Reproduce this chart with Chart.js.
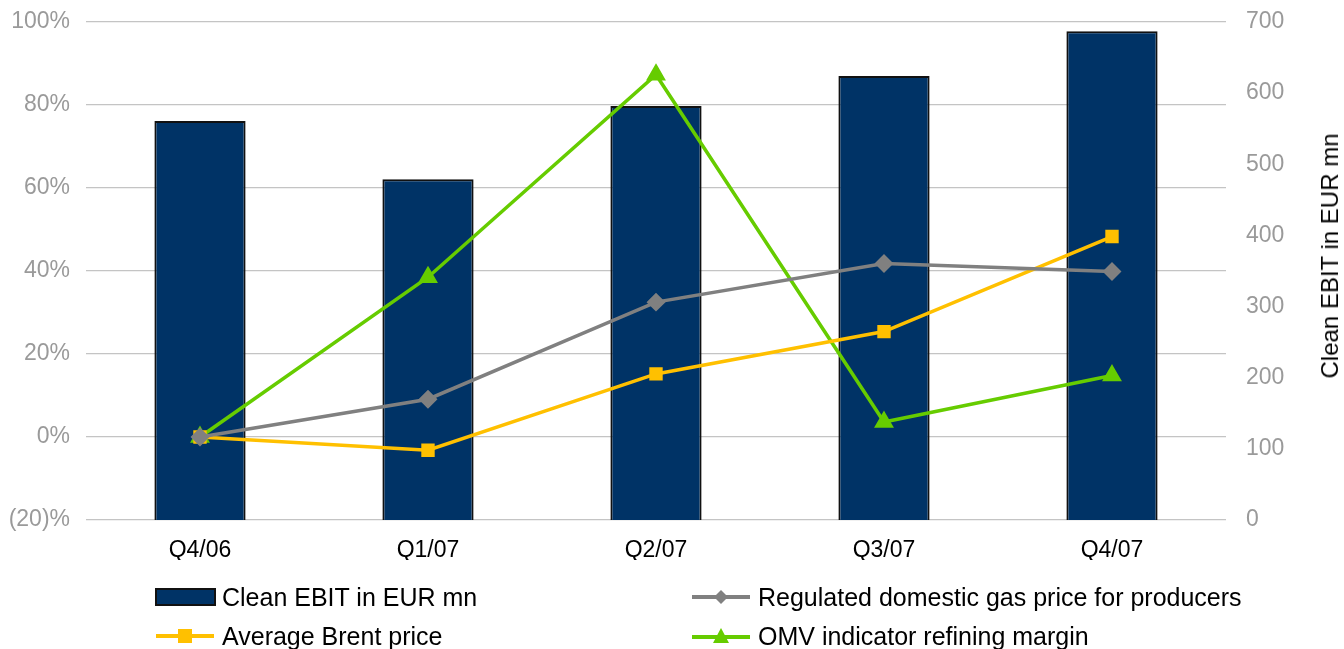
<!DOCTYPE html>
<html>
<head>
<meta charset="utf-8">
<script src="https://cdn.jsdelivr.net/npm/chart.js@4/dist/chart.umd.min.js"></script>
<style>
  html, body { margin:0; padding:0; background:#fff; }
  #wrap { position:relative; width:1344px; height:649px; overflow:hidden; font-family:"Liberation Sans", Arial, sans-serif; }
  canvas { position:absolute; left:0; top:0; }
  .ytitle { position:absolute; left:1330px; top:256px; transform:translate(-50%,-50%) rotate(-90deg); white-space:nowrap; font-size:24px; color:#000; }
  .leg { position:absolute; display:flex; align-items:center; font-size:25px; color:#000; white-space:nowrap; height:30px; }
  .leg svg { margin-right:6px; }
</style>
</head>
<body>
<div id="wrap">
  <canvas id="c" width="1344" height="649"></canvas>
  <div class="ytitle">Clean EBIT in EUR mn</div>
  <div class="leg" style="left:155px; top:582px;">
    <svg width="61" height="20"><rect x="1" y="2" width="59" height="16" fill="#003366" stroke="#111" stroke-width="2"/></svg>Clean EBIT in EUR mn</div>
  <div class="leg" style="left:155px; top:621px;">
    <svg width="61" height="20"><line x1="1" y1="10" x2="59" y2="10" stroke="#FFC000" stroke-width="4"/><rect x="23" y="3" width="14" height="14" fill="#FFC000"/></svg>Average Brent price</div>
  <div class="leg" style="left:691px; top:582px;">
    <svg width="61" height="20"><line x1="1" y1="10" x2="59" y2="10" stroke="#808080" stroke-width="4"/><polygon points="30,3 37,10 30,17 23,10" fill="#808080"/></svg>Regulated domestic gas price for producers</div>
  <div class="leg" style="left:691px; top:621px;">
    <svg width="61" height="20"><line x1="1" y1="11" x2="59" y2="11" stroke="#66CC00" stroke-width="4"/><polygon points="30,2 38,17 22,17" fill="#66CC00"/></svg>OMV indicator refining margin</div>
</div>
<script>
const categories = ["Q4/06", "Q1/07", "Q2/07", "Q3/07", "Q4/07"];
const cleanEbit = [561, 479, 582, 624, 687];
const gasPrice = [0, 9.1, 32.5, 41.8, 39.9];
const brentPrice = [0, -3.2, 15.2, 25.4, 48.3];
const refiningMargin = [0, 38.5, 87.3, 3.6, 14.8];
const leftTicks = [-20, 0, 20, 40, 60, 80, 100];
const rightTicks = [0, 100, 200, 300, 400, 500, 600, 700];

const FONT = '"Liberation Sans", Arial, sans-serif';

new Chart(document.getElementById('c'), {
  type: 'bar',
  data: {
    labels: categories,
    datasets: [
      { type:'line', label:'Regulated domestic gas price for producers', data: gasPrice, yAxisID:'y',
        borderColor:'#808080', backgroundColor:'#808080', borderWidth:3.5, pointStyle:'rectRot', pointRadius:7, pointHoverRadius:7, tension:0, order:1 },
      { type:'line', label:'Average Brent price', data: brentPrice, yAxisID:'y',
        borderColor:'#FFC000', backgroundColor:'#FFC000', borderWidth:3.5, pointStyle:'rect', pointRadius:7, pointHoverRadius:7, tension:0, order:1 },
      { type:'line', label:'OMV indicator refining margin', data: refiningMargin, yAxisID:'y',
        borderColor:'#66CC00', backgroundColor:'#66CC00', borderWidth:3.5, pointStyle:'triangle', pointRadius:8, pointHoverRadius:8, tension:0, order:1 },
      { type:'bar', label:'Clean EBIT in EUR mn', data: cleanEbit, yAxisID:'y1',
        backgroundColor:'#003366', borderColor:'#111111', borderWidth:2, barPercentage:0.4, categoryPercentage:1.0, order:2 }
    ]
  },
  options: {
    responsive:false, animation:false,
    layout: { padding: { top:22, bottom:89, left:0, right:0 } },
    plugins: { legend:{ display:false }, tooltip:{ enabled:false } },
    scales: {
      x: {
        grid:{ display:false, drawTicks:false }, border:{ display:false },
        ticks:{ color:'#000', font:{ family:FONT, size:23 }, padding:17, maxRotation:0 },
        afterFit: s => { s.height = 40; s.paddingLeft = 0; s.paddingRight = 0; }
      },
      y: {
        position:'left', min:-20, max:100,
        afterBuildTicks: s => { s.ticks = leftTicks.map(v => ({ value:v })); },
        grid:{ color:'#C4C4C4', lineWidth:1.3, drawTicks:false }, border:{ display:false },
        ticks:{ color:'#9A9A9A', font:{ family:FONT, size:23 }, padding:16,
          callback: v => v < 0 ? '(' + (-v) + ')%' : v + '%' },
        afterFit: s => { s.width = 86; s.paddingTop = 0; s.paddingBottom = 0; }
      },
      y1: {
        position:'right', min:0, max:700,
        afterBuildTicks: s => { s.ticks = rightTicks.map(v => ({ value:v })); },
        grid:{ display:false, drawTicks:false }, border:{ display:false },
        ticks:{ color:'#9A9A9A', font:{ family:FONT, size:23 }, padding:20 },
        afterFit: s => { s.width = 118; s.paddingTop = 0; s.paddingBottom = 0; }
      }
    }
  }
});
</script>
</body>
</html>
